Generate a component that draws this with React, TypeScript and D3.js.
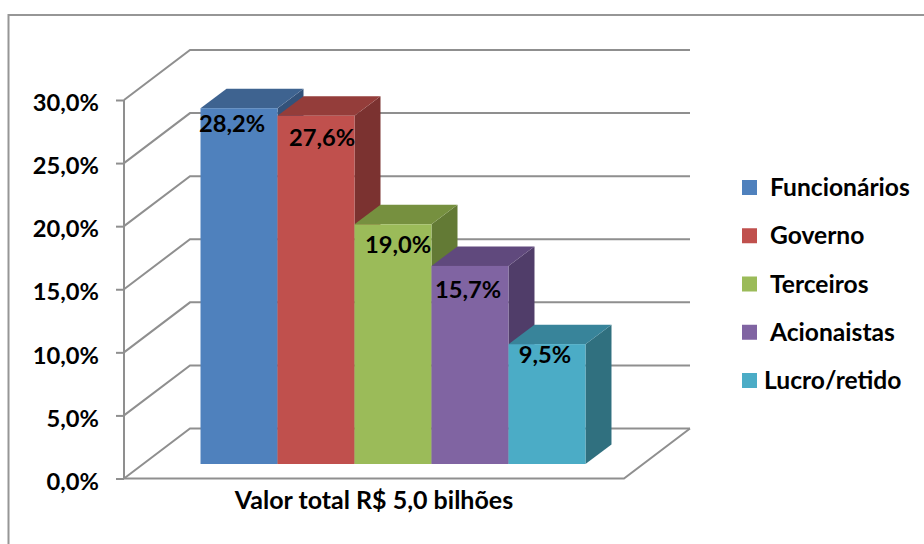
import React, { useRef, useEffect } from "react";
import * as d3 from "d3";

// data
const series = ["Funcionários", "Governo", "Terceiros", "Acionaistas", "Lucro/retido"];
const values = [28.2, 27.6, 19.0, 15.7, 9.5];
const yTicks = [0, 5, 10, 15, 20, 25, 30];
const category = "Valor total R$ 5,0 bilhões";

// colours: front, top, side
const frontColor = ["#4f81bd", "#c0504d", "#9bbb59", "#8064a2", "#4bacc6"];
const topColor = ["#3e6390", "#943d3a", "#76903f", "#60497d", "#38849a"];
const sideColor = ["#33527a", "#7b3230", "#637a35", "#503d69", "#30707f"];

// the labels are not centred in the original, nudge each one
const labelNudgeX = [-7, 6, 5, -2, -2];
const labelNudgeY = [15, 22, 20, 24, 11];
const legendNudgeX = [0, 0, 0, 0, -6];

const W = 924;
const H = 544;
const font = "Lato, sans-serif";
const gridColor = "#8f8f8f";

// 3d box of the chart
const left = 124;
const right = 624;
const bottom = 478.5;
const top = 100;
const backDx = 66;
const backDy = -50;
const barShiftX = 19;
const barShiftY = -14.5;
const barDx = 26;
const barDy = -19.5;

const App = () => {
  const svgRef = useRef<SVGSVGElement>(null);

  useEffect(() => {
    const svg = d3.select(svgRef.current);
    svg.selectAll("*").remove();

    const comma = d3.formatLocale({ decimal: ",", thousands: ".", grouping: [3], currency: ["R$", ""] }).format(".1f");
    const pct = (d: number) => comma(d) + "%";

    const y = d3.scaleLinear().domain([0, 30]).range([bottom, top]);
    const x = d3.scaleBand().domain(series).range([left, right]).paddingInner(0).paddingOuter(0.747);

    // outer frame, runs off the page at right and bottom
    svg.append("path")
      .attr("d", `M8.5,${H + 5}V15H${W + 5}`)
      .attr("fill", "none")
      .attr("stroke", "#969696")
      .attr("stroke-width", 2);

    // walls
    const grid = svg.append("g").attr("fill", "none").attr("stroke", gridColor).attr("stroke-width", 2);
    const line = d3.line();
    yTicks.forEach(t => {
      grid.append("path").attr("d", line([
        [left, y(t)],
        [left + backDx, y(t) + backDy],
        [right + backDx, y(t) + backDy],
      ]));
    });
    // floor
    grid.append("path").attr("d", line([
      [left, bottom],
      [right, bottom],
      [right + backDx, bottom + backDy],
    ]));

    // y axis
    const axisY = d3.axisLeft(y).tickValues(yTicks).tickSize(8).tickPadding(17).tickFormat(d => pct(d as number));
    const yG = svg.append("g").call(axisY);
    yG.select(".domain").remove();
    yG.append("line")
      .attr("x1", left).attr("x2", left)
      .attr("y1", top).attr("y2", bottom)
      .attr("stroke", gridColor).attr("stroke-width", 2);
    yG.selectAll(".tick line").attr("transform", `translate(${left},0)`).attr("stroke", gridColor).attr("stroke-width", 2);
    yG.selectAll(".tick text")
      .attr("transform", `translate(${left},0)`)
      .attr("fill", "#000")
      .attr("font-family", font)
      .attr("font-weight", 700)
      .attr("font-size", 23.7)
      .attr("dy", "0.45em");

    // bars
    const bars = svg.append("g")
      .selectAll("g")
      .data(values)
      .enter()
      .append("g")
      .attr("transform", `translate(${barShiftX},${barShiftY})`);

    bars.append("path")
      .attr("fill", (_, i) => sideColor[i])
      .attr("d", (d, i) => {
        const x1 = x(series[i])! + x.bandwidth();
        return line([
          [x1, y(d)],
          [x1 + barDx, y(d) + barDy],
          [x1 + barDx, y(0) + barDy],
          [x1, y(0)],
        ]) + "Z";
      });
    bars.append("path")
      .attr("fill", (_, i) => topColor[i])
      .attr("d", (d, i) => {
        const x0 = x(series[i])!;
        const x1 = x0 + x.bandwidth();
        return line([
          [x0, y(d)],
          [x0 + barDx, y(d) + barDy],
          [x1 + barDx, y(d) + barDy],
          [x1, y(d)],
        ]) + "Z";
      });
    bars.append("rect")
      .attr("x", (_, i) => x(series[i])!)
      .attr("y", d => y(d))
      .attr("width", x.bandwidth())
      .attr("height", d => y(0) - y(d))
      .attr("fill", (_, i) => frontColor[i]);

    // value labels go on top of every bar
    svg.append("g")
      .selectAll("text")
      .data(values)
      .enter()
      .append("text")
      .attr("x", (_, i) => x(series[i])! + x.bandwidth() / 2 + barShiftX + labelNudgeX[i])
      .attr("y", (d, i) => y(d) + barShiftY + labelNudgeY[i])
      .attr("dy", "0.35em")
      .attr("text-anchor", "middle")
      .attr("font-family", font)
      .attr("font-weight", 700)
      .attr("font-size", 23.7)
      .attr("fill", "#000")
      .text(d => pct(d));

    // category label
    svg.append("text")
      .attr("x", (left + right) / 2)
      .attr("y", 509)
      .attr("text-anchor", "middle")
      .attr("font-family", font)
      .attr("font-weight", 700)
      .attr("font-size", 25)
      .attr("fill", "#000")
      .text(category);

    // legend
    const legendY = d3.scalePoint().domain(series).range([187.5, 380.5]);
    const legend = svg.append("g")
      .selectAll("g")
      .data(series)
      .enter()
      .append("g")
      .attr("transform", d => `translate(742,${legendY(d)})`);
    legend.append("rect")
      .attr("y", -7.5)
      .attr("width", 15)
      .attr("height", 15)
      .attr("fill", (_, i) => frontColor[i]);
    legend.append("text")
      .attr("x", (_, i) => 28 + legendNudgeX[i])
      .attr("dy", "0.35em")
      .attr("font-family", font)
      .attr("font-weight", 700)
      .attr("font-size", 24.6)
      .attr("fill", "#000")
      .text(d => d);
  }, []);

  return (
    <svg
      ref={svgRef}
      width={W}
      height={H}
      style={{ position: "absolute", left: 0, top: 0, background: "#fff" }}
    />
  );
};

export default App;
